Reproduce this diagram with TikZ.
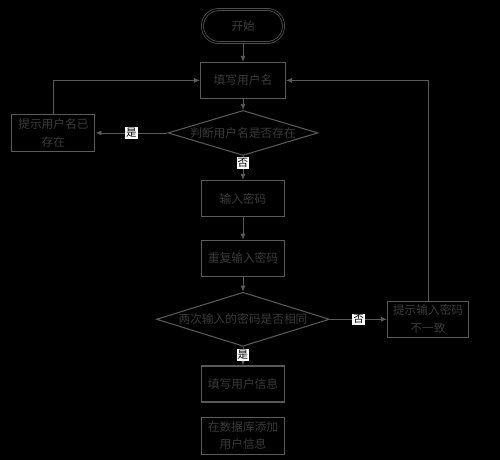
\documentclass[tikz,border=0pt]{standalone}
\usepackage{fontspec}
\setmainfont{Noto Sans CJK SC}
\usetikzlibrary{positioning}
\usetikzlibrary{arrows.meta}
\usetikzlibrary{shapes.geometric}

\definecolor{linegray}{HTML}{5A5A5A}
\definecolor{textgray}{HTML}{3A3A3A}

\tikzset{
    startstop/.style={rectangle, rounded corners=0.49cm, minimum width=2.43cm, minimum height=0.99cm, draw=linegray, line width=0.6pt, double=black, double distance=1.2pt, text=textgray, font=\fontsize{10pt}{15pt}\selectfont},
    procbox/.style={rectangle, minimum width=2.5cm, minimum height=1.08cm, draw=linegray, line width=0.9pt, text=textgray, align=center, font=\fontsize{10pt}{15pt}\selectfont},
    decision/.style={diamond, inner sep=0pt, draw=linegray, line width=0.9pt, label={[text=textgray, font=\fontsize{10pt}{15pt}\selectfont]center:#1}},
    yesno/.style={fill=white, text=black, inner sep=1pt, font=\fontsize{9pt}{9pt}\selectfont},
    flow/.style={draw=linegray, line width=0.7pt, -{Latex[length=1.8mm, width=1.5mm]}}
}

\begin{document}
\begin{tikzpicture}
    \fill [black] (0,0) rectangle (15,-13.8);

    \node (start) [startstop] at (7.29,-0.78) {开始};
    \node (fillname) [procbox, minimum width=2.55cm, below = 0.57cm of start] {填写用户名};
    \node (checkname) [decision={判断用户名是否存在}, minimum width=4.5cm, minimum height=1.35cm, below = 0.33cm of fillname] {};
    \node (nameexists) [procbox, minimum width=2.49cm, minimum height=1.11cm, left = 2.16cm of checkname] {提示用户名已\\存在};

    \node (inputpwd) [procbox, below = 0.72cm of checkname] {输入密码};
    \node (repeatpwd) [procbox, below = 0.68cm of inputpwd] {重复输入密码};
    \node (checkpwd) [decision={两次输入的密码是否相同}, minimum width=5.19cm, minimum height=1.62cm, below = 0.45cm of repeatpwd] {};
    \node (pwdmismatch) [procbox, minimum width=2.43cm, right = 1.71cm of checkpwd] {提示输入密码\\不一致};

    \node (fillinfo) [procbox, below = 0.56cm of checkpwd] {填写用户信息};
    \node (adddb) [procbox, minimum height=1.11cm, below = 0.42cm of fillinfo] {在数据库添加\\用户信息};

    \draw [flow] (start) -- (fillname);
    \draw [flow] (fillname) -- (checkname);
    \draw [flow] (checkname.west) -- node [yesno] {是} (nameexists.east);
    \draw [flow] (nameexists.north) |- (fillname.west);
    \draw [flow] (checkname.south) -- node [yesno, pos=0.3] {否} (inputpwd.north);
    \draw [flow] (inputpwd) -- (repeatpwd);
    \draw [flow] (repeatpwd) -- (checkpwd);
    \draw [flow] (checkpwd.east) -- node [yesno] {否} (pwdmismatch.west);
    \draw [flow] (pwdmismatch.north) |- (fillname.east);
    \draw [flow] (checkpwd.south) -- node [yesno, pos=0.45] {是} (fillinfo.north);
\end{tikzpicture}
\end{document}
